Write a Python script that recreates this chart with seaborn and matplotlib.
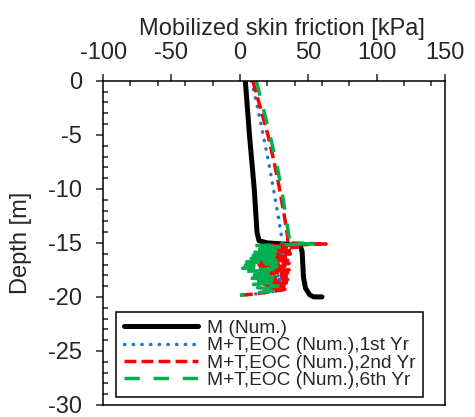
import numpy as np
import pandas as pd
import matplotlib
matplotlib.use('Agg')
import matplotlib.pyplot as plt
import seaborn as sns
from matplotlib.ticker import MultipleLocator

# M (Num.) - mobilized skin friction vs depth
m_depth = [0, -5, -10, -14, -14.8, -15.0, -15.2, -15.8, -17.0, -18.2, -19.2, -19.8, -20.0, -20.0]
m_fric = [4, 7, 10.5, 12.5, 14, 20, 44, 45.5, 46, 46.5, 48, 51, 54, 60]

# shared depth grid for the M+T,EOC series
eoc_depth = [0, -2.5, -5, -7.5, -10, -12.5, -14.5,
             -15.0, -15.1, -15.25, -15.4, -15.55, -15.7, -15.85, -16.0, -16.15, -16.3,
             -16.45, -16.6, -16.75, -16.9, -17.05, -17.2, -17.35, -17.5, -17.65, -17.8,
             -17.95, -18.1, -18.25, -18.4, -18.55, -18.7, -18.85, -19.0, -19.15, -19.3,
             -19.45, -19.6, -19.75, -19.85]

yr1_fric = [8.5, 13, 17, 21, 24.5, 28, 30.5,
            31, 40, 18, 34, 17, 33, 18, 32, 17, 33, 16, 32, 17, 33, 16, 32, 17, 33,
            18, 32, 17, 33, 18, 32, 19, 33, 20, 33, 22, 34, 28, 19, 10, 1]
yr2_fric = [9.5, 15, 20.5, 25, 29, 32.5, 35,
            35, 63, 20, 42, 17, 38, 16, 37, 15, 36, 16, 35, 15, 36, 14, 35, 15, 36,
            16, 35, 15, 34, 16, 35, 17, 34, 18, 35, 20, 33, 26, 18, 9, 0]
yr6_fric = [12, 17, 22, 26.5, 30.5, 33.5, 36,
            36, 54, 10, 33, 9, 31, 8, 29, 7, 28, 6, 28, 5, 27, 4, 27, 2, 26,
            3, 27, 5, 28, 6, 27, 8, 27, 10, 28, 13, 29, 22, 14, 6, 0]

labels = ['M (Num.)',
          'M+T,EOC (Num.),1st Yr',
          'M+T,EOC (Num.),2nd Yr',
          'M+T,EOC (Num.),6th Yr']

sns.set_style('ticks')
plt.rcParams['font.family'] = ['Liberation Sans', 'DejaVu Sans']
plt.rcParams['font.size'] = 17
plt.rcParams['axes.unicode_minus'] = False

fig = plt.figure(figsize=(4.75, 4.17), dpi=100)
ax = fig.add_axes([0.217, 0.029, 0.72, 0.777])

sns.lineplot(x=m_fric, y=m_depth, sort=False, estimator=None, ax=ax,
             color='black', linewidth=3.6, solid_capstyle='round', label=labels[0])
sns.lineplot(x=yr1_fric, y=eoc_depth, sort=False, estimator=None, ax=ax,
             color='#1f77c4', linewidth=2.5, linestyle=(0, (0.1, 2.4)),
             dash_capstyle='round', label=labels[1])
sns.lineplot(x=yr2_fric, y=eoc_depth, sort=False, estimator=None, ax=ax,
             color='#ff0000', linewidth=2.5, linestyle=(0, (3.4, 1.5)), label=labels[2])
sns.lineplot(x=yr6_fric, y=eoc_depth, sort=False, estimator=None, ax=ax,
             color='#00b050', linewidth=2.5, linestyle=(0, (4.4, 4.0)), label=labels[3])

ax.set_xlim(-100, 150)
ax.set_ylim(-30, 0)
ax.xaxis.tick_top()
ax.xaxis.set_label_position('top')
ax.xaxis.set_major_locator(MultipleLocator(50))
ax.xaxis.set_minor_locator(MultipleLocator(20))
ax.yaxis.set_major_locator(MultipleLocator(5))
ax.yaxis.set_minor_locator(MultipleLocator(1))
ax.tick_params(which='major', direction='out', length=5, width=1.1, labelsize=17)
ax.tick_params(axis='x', which='major', pad=7)
ax.tick_params(axis='y', which='major', pad=10)
ax.tick_params(which='minor', direction='in', length=3.5, width=1.1)
ax.tick_params(axis='x', which='both', top=True, bottom=False)

for s in ax.spines.values():
    s.set_visible(True)
    s.set_linewidth(1.1)
    s.set_color('black')

ax.set_xlabel('Mobilized skin friction [kPa]', fontsize=17, labelpad=5)
ax.xaxis.label.set_x(0.524)
ax.set_ylabel('Depth [m]', fontsize=17, labelpad=12)

leg = ax.legend(loc='lower left', bbox_to_anchor=(0.038, 0.025), borderaxespad=0,
                fontsize=13.8, handlelength=3.9, handletextpad=0.45,
                labelspacing=0.0, borderpad=0.4, fancybox=False,
                edgecolor='black', framealpha=1)
leg.get_frame().set_linewidth(1.1)

fig.savefig('out.png', dpi=100)
